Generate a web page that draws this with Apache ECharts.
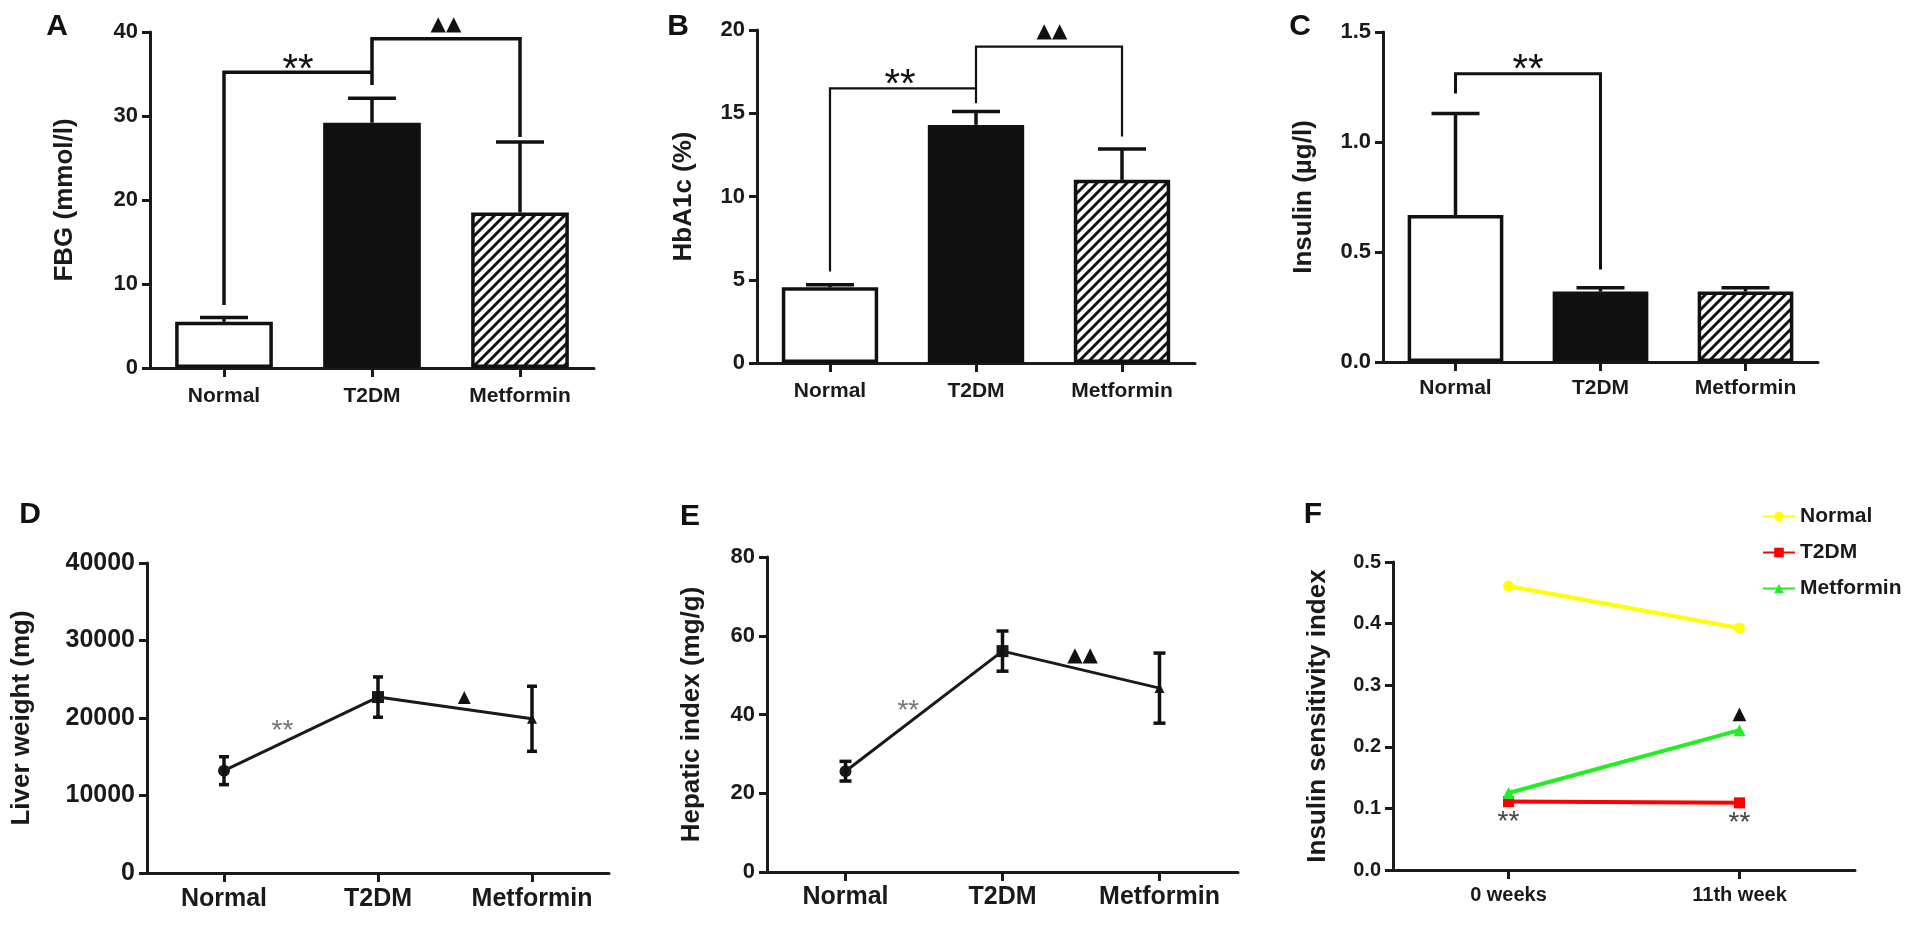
<!DOCTYPE html>
<html><head><meta charset="utf-8">
<script src="https://cdn.jsdelivr.net/npm/echarts@6/dist/echarts.min.js"></script>
<style>html,body{margin:0;padding:0;background:#fff}#c{width:1913px;height:925px}</style>
</head><body><div id="c"></div>
<script>
// ---------- data ----------
const groups = ['Normal', 'T2DM', 'Metformin'];
const weeks = ['0 weeks', '11th week'];

// A: FBG (mmol/l)  mean and upper error bar end
const fbgMean = [5.5, 29.2, 18.5];
const fbgUpper = [6.0, 32.1, 26.9];
const fbgTicks = [0, 40, 10];
// B: HbA1c (%)
const hbaMean = [4.55, 14.3, 11.0];
const hbaUpper = [4.7, 15.1, 12.85];
const hbaTicks = [0, 20, 5];
// C: Insulin (µg/l)
const insMean = [0.668, 0.32, 0.32];
const insUpper = [1.13, 0.337, 0.337];
const insTicks = [0, 1.5, 0.5];
// D: Liver weight (mg)  mean ± err
const liverMean = [13200, 22700, 19900];
const liverErr = [1800, 2600, 4200];
const liverTicks = [0, 40000, 10000];
// E: Hepatic index (mg/g)
const hepMean = [25.6, 56.1, 46.7];
const hepErr = [2.5, 5.1, 8.9];
const hepTicks = [0, 80, 20];
// F: Insulin sensitivity index
const isiNormal = [0.461, 0.393];
const isiT2DM = [0.111, 0.109];
const isiMet = [0.125, 0.227];
const isiTicks = [0, 0.5, 0.1];

// significance brackets: polylines in [categoryIndex, value]
const bracketsA = [
  [[0, 7.5], [0, 35.2], [1, 35.2]],
  [[1, 33.7], [1, 39.2], [2, 39.2], [2, 27.5]]
];
const bracketsB = [
  [[0, 5.5], [0, 16.5], [1, 16.5]],
  [[1, 15.6], [1, 19.0], [2, 19.0], [2, 13.6]]
];
const bracketsC = [
  [[0, 1.22], [0, 1.31], [1, 1.31], [1, 0.42]]
];
// significance marks: [fromCat, toCat, fraction, value, text]
const marksA = [[0, 1, 0.5, 36.4, '**'], [1, 2, 0.5, 40.9, '▲▲']];
const marksB = [[0, 1, 0.48, 17.2, '**'], [1, 2, 0.52, 19.9, '▲▲']];
const marksC = [[0, 1, 0.5, 1.364, '**']];
const marksD = [[0, 1, 0.38, 18800, '**'], [1, 2, 0.56, 22600, '▲']];
const marksE = [[0, 1, 0.4, 41.9, '**'], [1, 2, 0.51, 54.9, '▲▲']];
const marksF = [[0, 0, 0, 0.084, '**'], [1, 1, 0, 0.083, '**'], [1, 1, 0, 0.252, '▲']];

// ---------- styling helpers ----------
const FONT = '"Liberation Sans", Arial, Helvetica, sans-serif';
const INK = '#1a1a1a';

const hatch = document.createElement('canvas');
hatch.width = 10; hatch.height = 10;
(function () {
  const c = hatch.getContext('2d');
  c.fillStyle = '#fff'; c.fillRect(0, 0, 10, 10);
  c.strokeStyle = '#111'; c.lineWidth = 3;
  c.beginPath();
  c.moveTo(-2, 12); c.lineTo(12, -2);
  c.moveTo(-2, 2); c.lineTo(2, -2);
  c.moveTo(8, 12); c.lineTo(12, 8);
  c.stroke();
})();

const grids = [
  { left: 150, top: 32, width: 444, height: 336 },
  { left: 757, top: 30, width: 438, height: 333 },
  { left: 1383, top: 32, width: 435, height: 330 },
  { left: 147, top: 563, width: 462, height: 310 },
  { left: 767, top: 557, width: 471, height: 315 },
  { left: 1393, top: 562, width: 462, height: 308 }
];

function xAx(p, cats, fs, margin) {
  return {
    gridIndex: p, type: 'category', data: cats,
    axisLine: { show: true, onZero: false, lineStyle: { color: INK, width: 3 } },
    axisTick: { show: true, alignWithLabel: true, interval: 0, length: 9, lineStyle: { color: INK, width: 3 } },
    axisLabel: { color: INK, fontSize: fs, fontWeight: 'bold', fontFamily: FONT, margin: margin,
      interval: 0, hideOverlap: false },
    splitLine: { show: false }
  };
}
function yAx(p, ticks, name, nameGap, fs, dec) {
  return {
    gridIndex: p, type: 'value', min: ticks[0], max: ticks[1], interval: ticks[2],
    axisLine: { show: true, lineStyle: { color: INK, width: 3 } },
    axisTick: { show: true, length: 8, lineStyle: { color: INK, width: 3 } },
    axisLabel: { color: INK, fontSize: fs, fontWeight: 'bold', fontFamily: FONT, margin: 12,
      formatter: v => dec ? v.toFixed(dec) : String(v) },
    splitLine: { show: false },
    name: name, nameLocation: 'middle', nameGap: nameGap,
    nameTextStyle: { color: INK, fontSize: 26, fontWeight: 'bold', fontFamily: FONT }
  };
}

const barStyles = [
  { color: '#fff', borderColor: '#111', borderWidth: 3.5 },
  { color: '#111', borderColor: '#111', borderWidth: 3.5 },
  { color: { image: hatch, repeat: 'repeat' }, borderColor: '#111', borderWidth: 3.5 }
];

function barSeries(p, mean) {
  return {
    type: 'bar', xAxisIndex: p, yAxisIndex: p, barWidth: '66%', z: 2,
    data: mean.map((v, i) => ({ value: v, itemStyle: barStyles[i] }))
  };
}
function upperErr(p, mean, upper) {
  return {
    type: 'custom', xAxisIndex: p, yAxisIndex: p, z: 4,
    data: mean.map((m, i) => [i, m, upper[i]]),
    renderItem: (params, api) => {
      const i = api.value(0);
      const b = api.coord([i, api.value(1)]);
      const t = api.coord([i, api.value(2)]);
      const st = { stroke: '#111', lineWidth: 3.5 };
      return { type: 'group', children: [
        { type: 'line', shape: { x1: b[0], y1: b[1], x2: t[0], y2: t[1] }, style: st },
        { type: 'line', shape: { x1: t[0] - 24, y1: t[1], x2: t[0] + 24, y2: t[1] }, style: st }
      ] };
    }
  };
}
function symErr(p, mean, err, capHalf) {
  return {
    type: 'custom', xAxisIndex: p, yAxisIndex: p, z: 4,
    data: mean.map((m, i) => [i, m - err[i], m + err[i]]),
    renderItem: (params, api) => {
      const i = api.value(0);
      const lo = api.coord([i, api.value(1)]);
      const hi = api.coord([i, api.value(2)]);
      const st = { stroke: '#111', lineWidth: 3.5 };
      return { type: 'group', children: [
        { type: 'line', shape: { x1: lo[0], y1: lo[1], x2: hi[0], y2: hi[1] }, style: st },
        { type: 'line', shape: { x1: hi[0] - capHalf, y1: hi[1], x2: hi[0] + capHalf, y2: hi[1] }, style: st },
        { type: 'line', shape: { x1: lo[0] - capHalf, y1: lo[1], x2: lo[0] + capHalf, y2: lo[1] }, style: st }
      ] };
    }
  };
}
function bracketSeries(p, brackets, w) {
  return {
    type: 'custom', xAxisIndex: p, yAxisIndex: p, z: 5, clip: false,
    data: brackets.map(b => b[0]),
    renderItem: (params, api) => {
      const pts = brackets[params.dataIndex].map(pt => api.coord(pt));
      return { type: 'polyline', shape: { points: pts },
        style: { stroke: '#111', lineWidth: w, fill: null, lineJoin: 'miter', lineCap: 'butt' } };
    }
  };
}
function markSeries(p, marks, styles) {
  return {
    type: 'custom', xAxisIndex: p, yAxisIndex: p, z: 6, clip: false,
    data: marks.map(m => [m[0], m[3]]),
    renderItem: (params, api) => {
      const m = marks[params.dataIndex];
      const a = api.coord([m[0], m[3]]);
      const b = api.coord([m[1], m[3]]);
      const x = a[0] + (b[0] - a[0]) * m[2];
      const s = styles[m[4]];
      return { type: 'text', x: x, y: a[1] + (s.dy || 0),
        style: { text: m[4], fontSize: s.size, fontWeight: s.weight || 'normal', fill: s.color,
          fontFamily: s.family || FONT, align: 'center', verticalAlign: 'middle' } };
    }
  };
}
function pointLine(p, mean, sizes) {
  const syms = ['circle', 'rect', 'triangle'];
  return {
    type: 'line', xAxisIndex: p, yAxisIndex: p, z: 3,
    data: mean.map((v, i) => ({ value: v, symbol: syms[i], symbolSize: sizes[i] })),
    lineStyle: { color: INK, width: 3 }, itemStyle: { color: INK }, showSymbol: true
  };
}
function fLine(name, data, color, symbol, size) {
  return {
    type: 'line', name: name, xAxisIndex: 5, yAxisIndex: 5, z: 3,
    data: data, symbol: symbol, symbolSize: size,
    lineStyle: { color: color, width: 4 }, itemStyle: { color: color }
  };
}

const bigStyle = {
  '**': { size: 40, color: '#111', dy: 9 },
  '▲▲': { size: 20, color: '#111', family: '"DejaVu Sans", sans-serif' }
};
const smallStyleDE = {
  '**': { size: 28, color: '#777', dy: 4 },
  '▲▲': { size: 20, color: '#111', family: '"DejaVu Sans", sans-serif' },
  '▲': { size: 17, color: '#111', family: '"DejaVu Sans", sans-serif' }
};
const styleF = {
  '**': { size: 28, color: '#444', dy: 4 },
  '▲': { size: 18, color: '#111', family: '"DejaVu Sans", sans-serif' }
};

const letters = [['A', 57, 27], ['B', 678, 27], ['C', 1300, 27], ['D', 30, 515], ['E', 690, 517], ['F', 1313, 515]];

const option = {
  animation: false,
  backgroundColor: '#fff',
  grid: grids.map(g => Object.assign({ outerBoundsMode: 'none', containLabel: false }, g)),
  xAxis: [
    xAx(0, groups, 21, 18), xAx(1, groups, 21, 18), xAx(2, groups, 21, 16),
    xAx(3, groups, 25, 14), xAx(4, groups, 25, 13), xAx(5, weeks, 20, 15)
  ],
  yAxis: [
    yAx(0, fbgTicks, 'FBG (mmol/l)', 72, 22, 0),
    yAx(1, hbaTicks, 'HbA1c (%)', 60, 22, 0),
    yAx(2, insTicks, 'Insulin (µg/l)', 66, 22, 1),
    yAx(3, liverTicks, 'Liver weight (mg)', 112, 25, 0),
    yAx(4, hepTicks, 'Hepatic index (mg/g)', 62, 22, 0),
    yAx(5, isiTicks, 'Insulin sensitivity index', 62, 20, 1)
  ],
  legend: {
    show: true, data: ['Normal', 'T2DM', 'Metformin'], orient: 'vertical',
    left: 1757, top: 501, itemWidth: 32, itemHeight: 12, itemGap: 15, selectedMode: false,
    textStyle: { fontSize: 21, fontWeight: 'bold', color: INK, fontFamily: FONT }
  },
  graphic: letters.map(l => ({
    type: 'text', x: l[1], y: l[2],
    style: { text: l[0], fontSize: 30, fontWeight: 'bold', fill: '#111', fontFamily: FONT,
      align: 'center', verticalAlign: 'middle' }
  })),
  series: [
    barSeries(0, fbgMean), upperErr(0, fbgMean, fbgUpper), bracketSeries(0, bracketsA, 3.5), markSeries(0, marksA, bigStyle),
    barSeries(1, hbaMean), upperErr(1, hbaMean, hbaUpper), bracketSeries(1, bracketsB, 2.2), markSeries(1, marksB, bigStyle),
    barSeries(2, insMean), upperErr(2, insMean, insUpper), bracketSeries(2, bracketsC, 3), markSeries(2, marksC, bigStyle),
    pointLine(3, liverMean, [12, 12, 10]), symErr(3, liverMean, liverErr, 5), markSeries(3, marksD, smallStyleDE),
    pointLine(4, hepMean, [12, 12, 10]), symErr(4, hepMean, hepErr, 6), markSeries(4, marksE, smallStyleDE),
    fLine('Normal', isiNormal, '#ffff00', 'circle', 11),
    fLine('T2DM', isiT2DM, '#ff0000', 'rect', 11),
    fLine('Metformin', isiMet, '#22ee22', 'triangle', 12),
    markSeries(5, marksF, styleF)
  ]
};

const chart = echarts.init(document.getElementById('c'), null, { renderer: 'canvas' });
chart.setOption(option);
</script>
</body></html>
